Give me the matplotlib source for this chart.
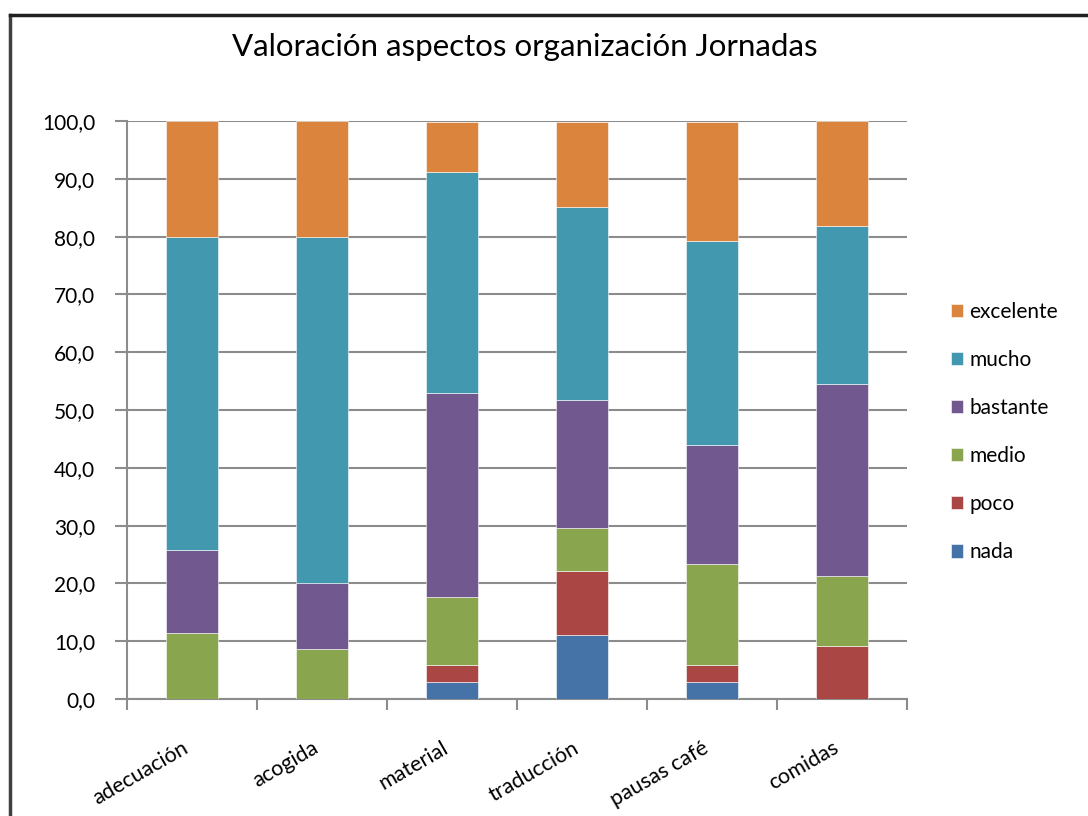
import matplotlib.pyplot as plt
import numpy as np
from matplotlib.ticker import FuncFormatter

plt.rcParams['font.family'] = ['Lato', 'DejaVu Sans']

categorias = ['adecuación', 'acogida', 'material', 'traducción', 'pausas café', 'comidas']
series = ['nada', 'poco', 'medio', 'bastante', 'mucho', 'excelente']
colores = ['#4572A7', '#AA4643', '#89A54E', '#71588F', '#4198AF', '#DB843D']

nada = [0.0, 0.0, 2.9, 11.1, 2.9, 0.0]
poco = [0.0, 0.0, 2.9, 11.1, 2.9, 9.1]
medio = [11.4, 8.6, 11.8, 7.4, 17.6, 12.1]
bastante = [14.3, 11.4, 35.3, 22.2, 20.6, 33.3]
mucho = [54.3, 60.0, 38.2, 33.3, 35.3, 27.3]
excelente = [20.0, 20.0, 8.8, 14.8, 20.6, 18.2]
valores = [nada, poco, medio, bastante, mucho, excelente]

fig = plt.figure(figsize=(10.88, 8.16), dpi=100)
ax = fig.add_axes([127/1088, 1 - 699/816, 780/1088, 578/816])

x = np.arange(len(categorias))
base = np.zeros(len(categorias))
handles = []
for nombre, vals, col in zip(series, valores, colores):
    b = ax.bar(x, vals, 0.4, bottom=base, color=col, edgecolor='white',
               linewidth=0.4, label=nombre, zorder=3)
    handles.append(b)
    base = base + np.array(vals)

ax.set_xlim(-0.5, len(categorias) - 0.5)
ax.set_ylim(0, 100)
ax.set_yticks(np.arange(0, 101, 10))
ax.yaxis.set_major_formatter(FuncFormatter(lambda v, p: f'{v:.1f}'.replace('.', ',')))
ax.grid(axis='y', color='#8c8c8c', linewidth=1.5, zorder=0)

ax.set_xticks(x)
ax.set_xticklabels(categorias, rotation=30, ha='right', fontsize=15.5)
ax.set_xticks(np.arange(-0.5, len(categorias), 1), minor=True)
ax.tick_params(axis='x', which='major', length=0, pad=28)
ax.tick_params(axis='x', which='minor', length=8, color='#8c8c8c', width=1.5)
ax.tick_params(axis='y', length=9, color='#8c8c8c', width=1.5, labelsize=15, pad=14)

for s in ['top', 'right']:
    ax.spines[s].set_visible(False)
for s in ['left', 'bottom']:
    ax.spines[s].set_color('#8c8c8c')
    ax.spines[s].set_linewidth(1.5)

ax.legend(handles[::-1], series[::-1], loc='center left', bbox_to_anchor=(1.032, 0.462),
          frameon=False, fontsize=15, handlelength=0.6, handleheight=0.6,
          handletextpad=0.3, labelspacing=1.35)

fig.text(0.482, 1 - 47/816, 'Valoración aspectos organización Jornadas',
         ha='center', va='center', fontsize=22.5)

# marco exterior del gráfico
fig.add_artist(plt.Line2D([10/1088, 10/1088], [0, 1 - 15/816], color='#404040', lw=2.5,
                          transform=fig.transFigure))
fig.add_artist(plt.Line2D([10/1088, 1], [1 - 15/816, 1 - 15/816], color='#202020', lw=2.5,
                          transform=fig.transFigure))

fig.savefig('out.png', dpi=100)
